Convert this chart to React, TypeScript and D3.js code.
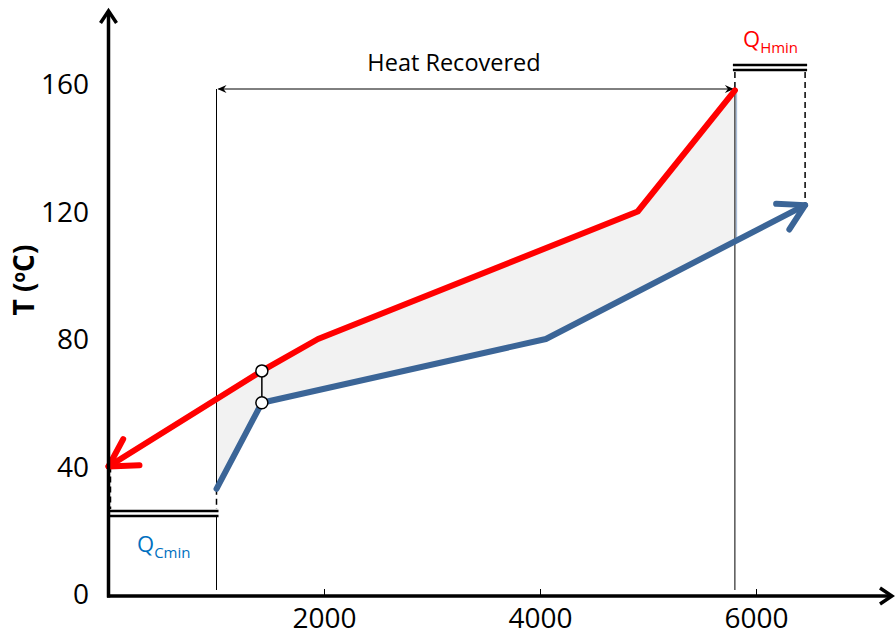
import React from "react";
import * as d3 from "d3";

// Hot composite curve (heat duty kW, temperature °C)
const hotQ = [0, 1420, 1940, 4900, 5800];
const hotT = [40, 70, 80, 120, 158];
// Cold composite curve
const coldQ = [1000, 1420, 4050, 6450];
const coldT = [33, 60, 80, 122];

const xTicks = [2000, 4000, 6000];
const yTicks = [0, 40, 80, 120, 160];

// Pinch point and recovery limits
const pinchQ = 1420;
const recoverStart = 1000;
const recoverEnd = 5800;
const hotUtilityEnd = 6450;
const coldUtilityStart = 0;

const W = 895;
const H = 635;

const RED = "#ff0000";
const BLUE = "#3b6597";
const FONT = "'Open Sans', sans-serif";

function interp(qs: number[], ts: number[], q: number): number {
  return d3.scaleLinear().domain(qs).range(ts).clamp(true)(q);
}

function arrowHead(tip: [number, number], from: [number, number], len: number, spread: number) {
  const ang = Math.atan2(from[1] - tip[1], from[0] - tip[0]);
  const a1 = ang + spread;
  const a2 = ang - spread;
  return `M${tip[0] + len * Math.cos(a1)},${tip[1] + len * Math.sin(a1)}L${tip[0]},${tip[1]}L${tip[0] + len * Math.cos(a2)},${tip[1] + len * Math.sin(a2)}`;
}

export default function App() {
  const x = d3.scaleLinear().domain([0, 6000]).range([108.5, 756.5]);
  const y = d3.scaleLinear().domain([0, 160]).range([594, 84]);

  const hotPts: [number, number][] = hotQ.map((q, i) => [x(q), y(hotT[i])]);
  const coldPts: [number, number][] = coldQ.map((q, i) => [x(q), y(coldT[i])]);
  const line = d3.line();

  // Shaded overlap region between the curves over the recovered duty
  const hotInside = hotQ.filter((q) => q > recoverStart && q < recoverEnd);
  const coldInside = coldQ.filter((q) => q > recoverStart && q < recoverEnd);
  const topEdge: [number, number][] = [recoverStart, ...hotInside, recoverEnd].map((q) => [x(q), y(interp(hotQ, hotT, q))]);
  const botEdge: [number, number][] = [recoverStart, ...coldInside, recoverEnd]
    .reverse()
    .map((q) => [x(q), y(interp(coldQ, coldT, q))]);
  const area = line([...topEdge, ...botEdge]) + "Z";

  const axisY = 596;
  const x0 = x(0);
  const xs = x(recoverStart);
  const xe = x(recoverEnd);
  const xh = x(hotUtilityEnd);
  const arrowY = 89;

  const hotEndY = y(interp(hotQ, hotT, recoverEnd));
  const coldEndY = y(interp(coldQ, coldT, recoverEnd));
  const coldStartY = y(coldT[0]);
  const hotStartY = y(hotT[0]);

  const redTip = hotPts[0];
  const blueTip = coldPts[coldPts.length - 1];

  return (
    <svg width={W} height={H} style={{ position: "absolute", left: 0, top: 0, background: "#fff" }}>
      {/* overlap shading */}
      <path d={area} fill="#f2f2f2" stroke="none" />
      <line x1={xe + 1.5} x2={xe + 1.5} y1={hotEndY} y2={coldEndY} stroke="#a9bcd6" strokeWidth={1.5} />

      {/* recovered duty boundaries */}
      <line x1={xs} x2={xs} y1={arrowY} y2={coldStartY} stroke="#000" strokeWidth={1} />
      <line x1={xs} x2={xs} y1={516} y2={590} stroke="#000" strokeWidth={1} />
      <line x1={xe} x2={xe} y1={arrowY} y2={590} stroke="#000" strokeWidth={1} />

      {/* Heat Recovered dimension arrow */}
      <line x1={xs + 2} x2={xe - 2} y1={arrowY} y2={arrowY} stroke="#000" strokeWidth={1} />
      <path d={`M${xs + 1},${arrowY}L${xs + 10},${arrowY - 4}L${xs + 7},${arrowY}L${xs + 10},${arrowY + 4}Z`} fill="#000" />
      <path d={`M${xe - 1},${arrowY}L${xe - 10},${arrowY - 4}L${xe - 7},${arrowY}L${xe - 10},${arrowY + 4}Z`} fill="#000" />
      <text x={454} y={71} textAnchor="middle" fontFamily={FONT} fontSize={23.5} fill="#000">
        Heat Recovered
      </text>

      {/* hot utility */}
      <line x1={xe - 2} x2={xh + 2} y1={65} y2={65} stroke="#000" strokeWidth={2.5} />
      <line x1={xe - 2} x2={xh + 2} y1={70} y2={70} stroke="#000" strokeWidth={2.5} />
      <line x1={xe} x2={xe} y1={72} y2={arrowY} stroke="#000" strokeWidth={1.5} strokeDasharray="6,4" />
      <line x1={xh} x2={xh} y1={72} y2={blueTip[1]} stroke="#000" strokeWidth={1.5} strokeDasharray="6,4" />
      <text x={743} y={47} fontFamily={FONT} fontSize={22} fill={RED}>
        Q<tspan dy={6} fontSize={15}>Hmin</tspan>
      </text>

      {/* cold utility */}
      <line x1={x(coldUtilityStart) - 1} x2={xs + 2} y1={511} y2={511} stroke="#000" strokeWidth={2.5} />
      <line x1={x(coldUtilityStart) - 1} x2={xs + 2} y1={516} y2={516} stroke="#000" strokeWidth={2.5} />
      <line x1={x0 + 2} x2={x0 + 2} y1={hotStartY} y2={509} stroke="#000" strokeWidth={1.5} strokeDasharray="6,4" />
      <line x1={xs} x2={xs} y1={coldStartY} y2={509} stroke="#000" strokeWidth={1.5} strokeDasharray="6,4" />
      <text x={137} y={552} fontFamily={FONT} fontSize={22} fill="#0070c0">
        Q<tspan dy={6} fontSize={15}>Cmin</tspan>
      </text>

      {/* composite curves */}
      <path d={line(hotPts) ?? ""} fill="none" stroke={RED} strokeWidth={6} strokeLinejoin="round" strokeLinecap="round" />
      <path d={arrowHead(redTip, hotPts[1], 31, 0.52)} fill="none" stroke={RED} strokeWidth={6} strokeLinejoin="round" strokeLinecap="round" />
      <path d={line(coldPts) ?? ""} fill="none" stroke={BLUE} strokeWidth={6} strokeLinejoin="round" strokeLinecap="round" />
      <path d={arrowHead(blueTip, coldPts[coldPts.length - 2], 29, 0.52)} fill="none" stroke={BLUE} strokeWidth={6} strokeLinejoin="round" strokeLinecap="round" />

      {/* pinch */}
      <line x1={x(pinchQ)} x2={x(pinchQ)} y1={y(interp(hotQ, hotT, pinchQ))} y2={y(interp(coldQ, coldT, pinchQ))} stroke="#000" strokeWidth={1.5} />
      <circle cx={x(pinchQ)} cy={y(interp(hotQ, hotT, pinchQ))} r={6} fill="#fff" stroke="#000" strokeWidth={1.5} />
      <circle cx={x(pinchQ)} cy={y(interp(coldQ, coldT, pinchQ))} r={6} fill="#fff" stroke="#000" strokeWidth={1.5} />

      {/* axes */}
      <line x1={x0} x2={x0} y1={axisY + 1.5} y2={11} stroke="#000" strokeWidth={3.5} />
      <path d={`M${x0 - 8},${23}L${x0},${11}L${x0 + 8},${23}`} fill="none" stroke="#000" strokeWidth={3.5} />
      <line x1={x0 - 1.5} x2={892} y1={axisY} y2={axisY} stroke="#000" strokeWidth={3.5} />
      <path d={`M${880},${axisY - 8}L${892},${axisY}L${880},${axisY + 8}`} fill="none" stroke="#000" strokeWidth={3.5} />

      {xTicks.map((t) => (
        <g key={t}>
          <line x1={x(t)} x2={x(t)} y1={axisY} y2={axisY - 7} stroke="#000" strokeWidth={1} />
          <text x={x(t)} y={628} textAnchor="middle" fontFamily={FONT} fontSize={28} fill="#000">
            {t}
          </text>
        </g>
      ))}
      {yTicks.map((t) => (
        <text key={t} x={89} y={y(t) + 10} textAnchor="end" fontFamily={FONT} fontSize={28} fill="#000">
          {t}
        </text>
      ))}

      <text transform="translate(34,280) rotate(-90)" textAnchor="middle" fontFamily={FONT} fontSize={28} fontWeight="bold" fill="#000">
        T (<tspan dy={-9} fontSize={17}>o</tspan><tspan dy={9}>C)</tspan>
      </text>
    </svg>
  );
}
